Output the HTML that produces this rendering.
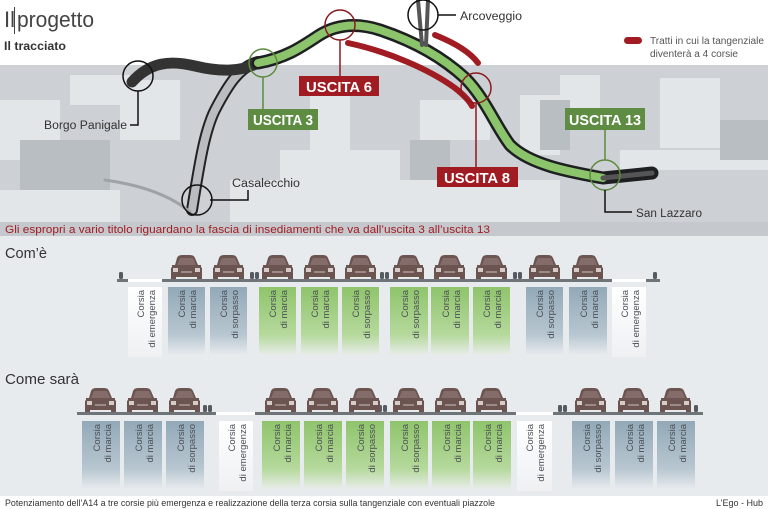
<!DOCTYPE html>
<html><head><meta charset="utf-8"><style>
html,body{margin:0;padding:0;background:#fff}
svg{display:block}
text{font-family:"Liberation Sans",sans-serif}
.lt{font-size:9.5px;fill:#4a4f55}
</style></head><body>
<svg width="768" height="509" viewBox="0 0 768 509" xmlns="http://www.w3.org/2000/svg">
<defs>
<linearGradient id="gG" x1="0" y1="0" x2="0" y2="1"><stop offset="0" stop-color="#8fc46b"/><stop offset="0.7" stop-color="#b5d99c"/><stop offset="1" stop-color="#e8ece9"/></linearGradient>
<linearGradient id="gB" x1="0" y1="0" x2="0" y2="1"><stop offset="0" stop-color="#93a9b8"/><stop offset="0.7" stop-color="#b7c6d0"/><stop offset="1" stop-color="#e8ebee"/></linearGradient>
<linearGradient id="gW" x1="0" y1="0" x2="0" y2="1"><stop offset="0" stop-color="#ffffff"/><stop offset="1" stop-color="#eef0f2"/></linearGradient>
<g id="car">
<path d="M6,3 Q7,0 11,0 L19,0 Q23,0 24,3 L27,10 L30,10 L30,12 L31,13 L31,24 L26,24 L26,22 L5,22 L5,24 L0,24 L0,13 L1,12 L1,10 L4,10 Z" fill="#6c5451"/>
<path d="M9,3 L22,3 L25,10 L6,10 Z" fill="#836c6a"/>
<rect x="2" y="13" width="5" height="4" fill="#d6cdcb"/><rect x="24" y="13" width="5" height="4" fill="#d6cdcb"/>
<rect x="10" y="16" width="11" height="2" fill="#9c8a88"/>
</g>
<g id="bol"><rect x="0" y="0" width="4" height="7" rx="1.5" fill="#555b60"/></g>
</defs>

<rect x="0" y="236" width="768" height="260" fill="#e8ebee"/>
<rect x="0" y="65" width="768" height="157" fill="#cdd1d5"/>
<g fill="#e3e6e9">
<rect x="0" y="100" width="60" height="60"/><rect x="70" y="75" width="60" height="30"/>
<rect x="120" y="80" width="60" height="60"/><rect x="0" y="190" width="120" height="32"/>
<rect x="310" y="95" width="40" height="120"/><rect x="280" y="150" width="120" height="40"/>
<rect x="420" y="100" width="70" height="40"/><rect x="520" y="95" width="40" height="60"/>
<rect x="560" y="75" width="40" height="40"/><rect x="660" y="78" width="60" height="70"/>
<rect x="620" y="150" width="148" height="20"/><rect x="230" y="180" width="330" height="42"/>
</g>
<g fill="#b9bec3"><rect x="20" y="140" width="90" height="50"/><rect x="410" y="140" width="40" height="40"/><rect x="540" y="100" width="30" height="50"/><rect x="720" y="120" width="48" height="40"/></g>

<g fill="none" stroke-linecap="round" stroke-linejoin="round">
<path d="M192,210 C200,160 205,130 215,110 C228,85 240,66 258,62" stroke="#222" stroke-width="12"/>
<path d="M192,210 C200,160 205,130 215,110 C228,85 240,66 258,62" stroke="#b9bdc1" stroke-width="8"/>
<path d="M105,180 C140,185 170,195 190,212" stroke="#9ea3a8" stroke-width="3"/>
<path d="M132,82 C150,62 170,60 195,66 C220,72 240,72 258,63" stroke="#333" stroke-width="11"/>
<path d="M258,63 C285,58 300,48 318,36 C335,25 355,22 380,30 C410,40 440,55 465,78 C485,98 495,125 510,145 C530,165 570,172 603,178 L652,173" stroke="#1d1f21" stroke-width="13"/>
<path d="M258,63 C285,58 300,48 318,36 C335,25 355,22 380,30 C410,40 440,55 465,78 C485,98 495,125 510,145 C530,165 570,172 603,178" stroke="#8cc46c" stroke-width="8"/>
<path d="M603,178 L652,173" stroke="#555" stroke-width="5"/>
<path d="M418,0 L422,45 M428,0 L426,45" stroke="#555" stroke-width="4"/>
<path d="M348,43 C390,52 430,70 455,88 C465,96 470,102 472,106" stroke="#a01c22" stroke-width="6"/>
<path d="M435,35 C455,43 470,52 478,63" stroke="#a01c22" stroke-width="6"/>
</g>
<g fill="none" stroke-width="1.5">
<circle cx="138" cy="76" r="15" stroke="#111"/>
<circle cx="263" cy="63" r="14" stroke="#5d8a3e"/>
<circle cx="340" cy="25" r="15" stroke="#8a1a1e"/>
<circle cx="423" cy="15" r="15" stroke="#111"/>
<circle cx="476" cy="88" r="15" stroke="#8a1a1e"/>
<circle cx="197" cy="200" r="15" stroke="#111"/>
<circle cx="605" cy="175" r="15" stroke="#5d8a3e"/>
</g>
<g fill="none" stroke-width="1.5">
<path d="M138,91 V125 H130" stroke="#111"/>
<path d="M263,77 V109" stroke="#5d8a3e"/>
<path d="M340,40 V76" stroke="#8a1a1e"/>
<path d="M476,103 V167" stroke="#8a1a1e"/>
<path d="M605,130 V160" stroke="#5d8a3e"/>
<path d="M605,190 V212 H632" stroke="#111"/>
<path d="M210,200 H248 V190" stroke="#111"/>
<path d="M438,15 H456" stroke="#111"/>
</g>
<g font-size="15" fill="#fff" font-weight="bold" text-anchor="middle">
<rect x="299" y="76" width="80" height="20" fill="#a01c22"/><text x="339" y="92" textLength="66" lengthAdjust="spacingAndGlyphs">USCITA 6</text>
<rect x="248" y="109" width="70" height="21" fill="#5e8c43"/><text x="283" y="125" textLength="60" lengthAdjust="spacingAndGlyphs">USCITA 3</text>
<rect x="437" y="167" width="81" height="20" fill="#a01c22"/><text x="477" y="183" textLength="66" lengthAdjust="spacingAndGlyphs">USCITA 8</text>
<rect x="565" y="108" width="80" height="22" fill="#5e8c43"/><text x="605" y="125" textLength="72" lengthAdjust="spacingAndGlyphs">USCITA 13</text>
</g>
<g font-size="11.5" fill="#333">
<text x="460" y="20" textLength="62" lengthAdjust="spacingAndGlyphs">Arcoveggio</text>
<text x="44" y="129" textLength="83" lengthAdjust="spacingAndGlyphs">Borgo Panigale</text>
<text x="232" y="187" textLength="68" lengthAdjust="spacingAndGlyphs">Casalecchio</text>
<text x="636" y="217" textLength="66" lengthAdjust="spacingAndGlyphs">San Lazzaro</text>
</g>
<rect x="624" y="37" width="18" height="7" rx="3.5" fill="#a01c22"/>
<text x="650" y="44" font-size="10" fill="#555" textLength="114" lengthAdjust="spacingAndGlyphs">Tratti in cui la tangenziale</text>
<text x="650" y="57" font-size="10" fill="#555" textLength="88" lengthAdjust="spacingAndGlyphs">diventerà a 4 corsie</text>
<text x="4" y="27" font-size="22" fill="#444">Il</text>
<rect x="14" y="7" width="1" height="27" fill="#444"/>
<text x="17" y="27" font-size="22" fill="#444" textLength="77" lengthAdjust="spacingAndGlyphs">progetto</text>
<text x="4" y="50" font-size="12" font-weight="bold" fill="#333" textLength="62" lengthAdjust="spacingAndGlyphs">Il tracciato</text>
<rect x="0" y="222" width="768" height="14" fill="#c5c9cd"/>
<text x="5" y="233" font-size="11" fill="#a01c22" textLength="485" lengthAdjust="spacingAndGlyphs">Gli espropri a vario titolo riguardano la fascia di insediamenti che va dall’uscita 3 all’uscita 13</text>

<text x="5" y="258" font-size="15" fill="#333" textLength="42" lengthAdjust="spacingAndGlyphs">Com’è</text>
<text x="5" y="384" font-size="15" fill="#333" textLength="74" lengthAdjust="spacingAndGlyphs">Come sarà</text>

<rect x="117" y="279" width="543" height="3" fill="#6e7478"/>
<rect x="128" y="279" width="34" height="3" fill="#fff"/>
<rect x="612" y="279" width="34" height="3" fill="#fff"/>
<use href="#bol" x="119" y="272"/><use href="#bol" x="653" y="272"/>
<use href="#bol" x="250" y="272"/><use href="#bol" x="255" y="272"/>
<use href="#bol" x="380" y="272"/><use href="#bol" x="385" y="272"/>
<use href="#bol" x="513" y="272"/><use href="#bol" x="518" y="272"/>

<rect x="77" y="412" width="626" height="3" fill="#6e7478"/>
<rect x="216" y="412" width="39" height="3" fill="#fff"/>
<rect x="516" y="412" width="37" height="3" fill="#fff"/>
<use href="#bol" x="203" y="405"/><use href="#bol" x="208" y="405"/>
<use href="#bol" x="378" y="405"/><use href="#bol" x="383" y="405"/>
<use href="#bol" x="558" y="405"/><use href="#bol" x="563" y="405"/>
<use href="#bol" x="694" y="405"/>

<g>
<use href="#car" x="171" y="255"/><use href="#car" x="213" y="255"/>
<use href="#car" x="262" y="255"/><use href="#car" x="304" y="255"/><use href="#car" x="345" y="255"/>
<use href="#car" x="393" y="255"/><use href="#car" x="434" y="255"/><use href="#car" x="476" y="255"/>
<use href="#car" x="529" y="255"/><use href="#car" x="572" y="255"/>
</g>
<g>
<use href="#car" x="85" y="388"/><use href="#car" x="127" y="388"/><use href="#car" x="169" y="388"/>
<use href="#car" x="265" y="388"/><use href="#car" x="307" y="388"/><use href="#car" x="349" y="388"/>
<use href="#car" x="393" y="388"/><use href="#car" x="435" y="388"/><use href="#car" x="476" y="388"/>
<use href="#car" x="575" y="388"/><use href="#car" x="618" y="388"/><use href="#car" x="660" y="388"/>
</g>

<g>
<rect x="128" y="287" width="34" height="70" fill="url(#gW)"/>
<rect x="168" y="287" width="37" height="68" fill="url(#gB)"/>
<rect x="210" y="287" width="37" height="68" fill="url(#gB)"/>
<rect x="259" y="287" width="37" height="68" fill="url(#gG)"/>
<rect x="301" y="287" width="37" height="68" fill="url(#gG)"/>
<rect x="342" y="287" width="37" height="68" fill="url(#gG)"/>
<rect x="390" y="287" width="38" height="68" fill="url(#gG)"/>
<rect x="431" y="287" width="38" height="68" fill="url(#gG)"/>
<rect x="473" y="287" width="37" height="68" fill="url(#gG)"/>
<rect x="526" y="287" width="37" height="68" fill="url(#gB)"/>
<rect x="569" y="287" width="38" height="68" fill="url(#gB)"/>
<rect x="612" y="287" width="34" height="70" fill="url(#gW)"/>
</g>
<g class="lt" text-anchor="end">
<g transform="translate(145,290) rotate(-90)"><text x="0" y="-1">Corsia</text><text x="0" y="10">di emergenza</text></g>
<g transform="translate(186,290) rotate(-90)"><text x="0" y="-1">Corsia</text><text x="0" y="10">di marcia</text></g>
<g transform="translate(228,290) rotate(-90)"><text x="0" y="-1">Corsia</text><text x="0" y="10">di sorpasso</text></g>
<g transform="translate(277,290) rotate(-90)"><text x="0" y="-1">Corsia</text><text x="0" y="10">di marcia</text></g>
<g transform="translate(319,290) rotate(-90)"><text x="0" y="-1">Corsia</text><text x="0" y="10">di marcia</text></g>
<g transform="translate(360,290) rotate(-90)"><text x="0" y="-1">Corsia</text><text x="0" y="10">di sorpasso</text></g>
<g transform="translate(409,290) rotate(-90)"><text x="0" y="-1">Corsia</text><text x="0" y="10">di sorpasso</text></g>
<g transform="translate(450,290) rotate(-90)"><text x="0" y="-1">Corsia</text><text x="0" y="10">di marcia</text></g>
<g transform="translate(491,290) rotate(-90)"><text x="0" y="-1">Corsia</text><text x="0" y="10">di marcia</text></g>
<g transform="translate(544,290) rotate(-90)"><text x="0" y="-1">Corsia</text><text x="0" y="10">di sorpasso</text></g>
<g transform="translate(588,290) rotate(-90)"><text x="0" y="-1">Corsia</text><text x="0" y="10">di marcia</text></g>
<g transform="translate(629,290) rotate(-90)"><text x="0" y="-1">Corsia</text><text x="0" y="10">di emergenza</text></g>
</g>

<g>
<rect x="82" y="421" width="38" height="68" fill="url(#gB)"/>
<rect x="124" y="421" width="38" height="68" fill="url(#gB)"/>
<rect x="166" y="421" width="38" height="68" fill="url(#gB)"/>
<rect x="219" y="421" width="34" height="70" fill="url(#gW)"/>
<rect x="262" y="421" width="38" height="68" fill="url(#gG)"/>
<rect x="304" y="421" width="38" height="68" fill="url(#gG)"/>
<rect x="346" y="421" width="38" height="68" fill="url(#gG)"/>
<rect x="390" y="421" width="38" height="68" fill="url(#gG)"/>
<rect x="432" y="421" width="38" height="68" fill="url(#gG)"/>
<rect x="473" y="421" width="38" height="68" fill="url(#gG)"/>
<rect x="517" y="421" width="35" height="70" fill="url(#gW)"/>
<rect x="572" y="421" width="38" height="68" fill="url(#gB)"/>
<rect x="615" y="421" width="38" height="68" fill="url(#gB)"/>
<rect x="657" y="421" width="38" height="68" fill="url(#gB)"/>
</g>
<g class="lt" text-anchor="end">
<g transform="translate(101,424) rotate(-90)"><text x="0" y="-1">Corsia</text><text x="0" y="10">di marcia</text></g>
<g transform="translate(143,424) rotate(-90)"><text x="0" y="-1">Corsia</text><text x="0" y="10">di marcia</text></g>
<g transform="translate(185,424) rotate(-90)"><text x="0" y="-1">Corsia</text><text x="0" y="10">di sorpasso</text></g>
<g transform="translate(236,424) rotate(-90)"><text x="0" y="-1">Corsia</text><text x="0" y="10">di emergenza</text></g>
<g transform="translate(281,424) rotate(-90)"><text x="0" y="-1">Corsia</text><text x="0" y="10">di marcia</text></g>
<g transform="translate(323,424) rotate(-90)"><text x="0" y="-1">Corsia</text><text x="0" y="10">di marcia</text></g>
<g transform="translate(365,424) rotate(-90)"><text x="0" y="-1">Corsia</text><text x="0" y="10">di sorpasso</text></g>
<g transform="translate(409,424) rotate(-90)"><text x="0" y="-1">Corsia</text><text x="0" y="10">di sorpasso</text></g>
<g transform="translate(451,424) rotate(-90)"><text x="0" y="-1">Corsia</text><text x="0" y="10">di marcia</text></g>
<g transform="translate(492,424) rotate(-90)"><text x="0" y="-1">Corsia</text><text x="0" y="10">di marcia</text></g>
<g transform="translate(534,424) rotate(-90)"><text x="0" y="-1">Corsia</text><text x="0" y="10">di emergenza</text></g>
<g transform="translate(591,424) rotate(-90)"><text x="0" y="-1">Corsia</text><text x="0" y="10">di sorpasso</text></g>
<g transform="translate(634,424) rotate(-90)"><text x="0" y="-1">Corsia</text><text x="0" y="10">di marcia</text></g>
<g transform="translate(676,424) rotate(-90)"><text x="0" y="-1">Corsia</text><text x="0" y="10">di marcia</text></g>
</g>

<rect x="0" y="496" width="768" height="13" fill="#fff"/>
<text x="5" y="506" font-size="9" fill="#333" textLength="490" lengthAdjust="spacingAndGlyphs">Potenziamento dell’A14 a tre corsie più emergenza e realizzazione della terza corsia sulla tangenziale con eventuali piazzole</text>
<text x="763" y="506" font-size="9" fill="#333" text-anchor="end">L’Ego - Hub</text>
</svg>
</body></html>
